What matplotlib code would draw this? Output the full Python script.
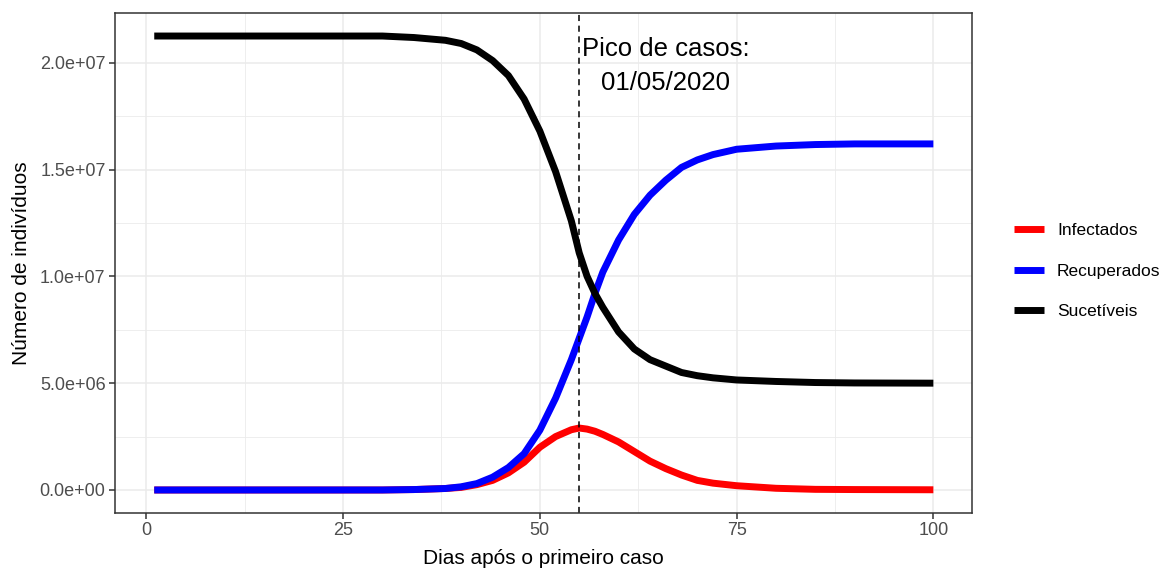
import numpy as np
import matplotlib
matplotlib.use("Agg")
import matplotlib.pyplot as plt
from matplotlib.ticker import MultipleLocator, FuncFormatter

plt.rcParams['font.family'] = ['Liberation Sans', 'DejaVu Sans']

# dias
dias = [1, 30, 34, 38, 40, 42, 44, 46, 48, 50, 52, 54, 55, 56, 57, 58, 60,
        62, 64, 66, 68, 70, 72, 75, 80, 85, 90, 100]

# valores em milhoes de individuos
infectados = [0.0, 0.0, 0.02, 0.07, 0.12, 0.25, 0.45, 0.8, 1.3, 2.0, 2.5, 2.82,
              2.9, 2.85, 2.75, 2.6, 2.25, 1.8, 1.35, 1.0, 0.7, 0.45, 0.32, 0.2,
              0.08, 0.03, 0.02, 0.01]
recuperados = [0.0, 0.0, 0.02, 0.07, 0.15, 0.3, 0.6, 1.05, 1.7, 2.8, 4.3, 6.1,
               7.1, 8.1, 9.2, 10.2, 11.7, 12.9, 13.8, 14.5, 15.1, 15.45, 15.7,
               15.95, 16.1, 16.17, 16.2, 16.2]
sucetiveis = [21.25, 21.25, 21.18, 21.05, 20.9, 20.6, 20.1, 19.4, 18.3, 16.8,
              14.9, 12.6, 11.1, 10.0, 9.2, 8.55, 7.4, 6.6, 6.1, 5.8, 5.5, 5.35,
              5.25, 5.15, 5.08, 5.03, 5.01, 5.0]

dia_pico = 55
rotulo_pico = ["Pico de casos:", "01/05/2020"]

dias = np.array(dias)
series = [("Infectados", np.array(infectados) * 1e6, "#FF0000"),
          ("Recuperados", np.array(recuperados) * 1e6, "#0000FF"),
          ("Sucetíveis", np.array(sucetiveis) * 1e6, "#000000")]

fig = plt.figure(figsize=(11.74, 5.72), dpi=100)
ax = fig.add_axes([0.0982, 0.1037, 0.73, 0.873])

for nome, vals, cor in series:
    ax.plot(dias, vals, color=cor, lw=5.0, solid_capstyle='butt',
            solid_joinstyle='round', label=nome)

ax.axvline(dia_pico, color='black', lw=1.1, ls=(0, (4, 3)))

ax.text(66, 20.65e6, rotulo_pico[0], ha='center', va='center', fontsize=18.5, color='black')
ax.text(66, 19.05e6, rotulo_pico[1], ha='center', va='center', fontsize=18.5, color='black')

# escalas estilo ggplot
xr = dias.max() - dias.min()
ax.set_xlim(dias.min() - 0.05 * xr, dias.max() + 0.05 * xr)
ymax = max(max(v) for _, v, _ in series)
ax.set_ylim(-0.05 * ymax, ymax * 1.05)

ax.xaxis.set_major_locator(MultipleLocator(25))
ax.xaxis.set_minor_locator(MultipleLocator(12.5))
ax.yaxis.set_major_locator(MultipleLocator(5e6))
ax.yaxis.set_minor_locator(MultipleLocator(2.5e6))
ax.yaxis.set_major_formatter(FuncFormatter(lambda v, p: '%.1e' % v))

ax.grid(True, which='major', color='#EBEBEB', lw=1.1)
ax.grid(True, which='minor', color='#EBEBEB', lw=0.6)
ax.set_axisbelow(True)
for s in ax.spines.values():
    s.set_color('#333333')
    s.set_linewidth(1.1)
ax.tick_params(which='major', length=4, width=1.1, color='#333333',
               labelsize=13, labelcolor='#4D4D4D', pad=3)
ax.tick_params(which='minor', length=0)

ax.set_xlabel("Dias após o primeiro caso", fontsize=15, labelpad=7)
ax.set_ylabel("Número de indivíduos", fontsize=15, labelpad=6)

leg = fig.legend(loc='center left', bbox_to_anchor=(0.85, 0.526), frameon=False,
                 fontsize=12.5, handlelength=1.75, handletextpad=0.75, labelspacing=1.45)
for h in leg.get_lines():
    h.set_linewidth(5)

fig.savefig("out.png", dpi=100)
